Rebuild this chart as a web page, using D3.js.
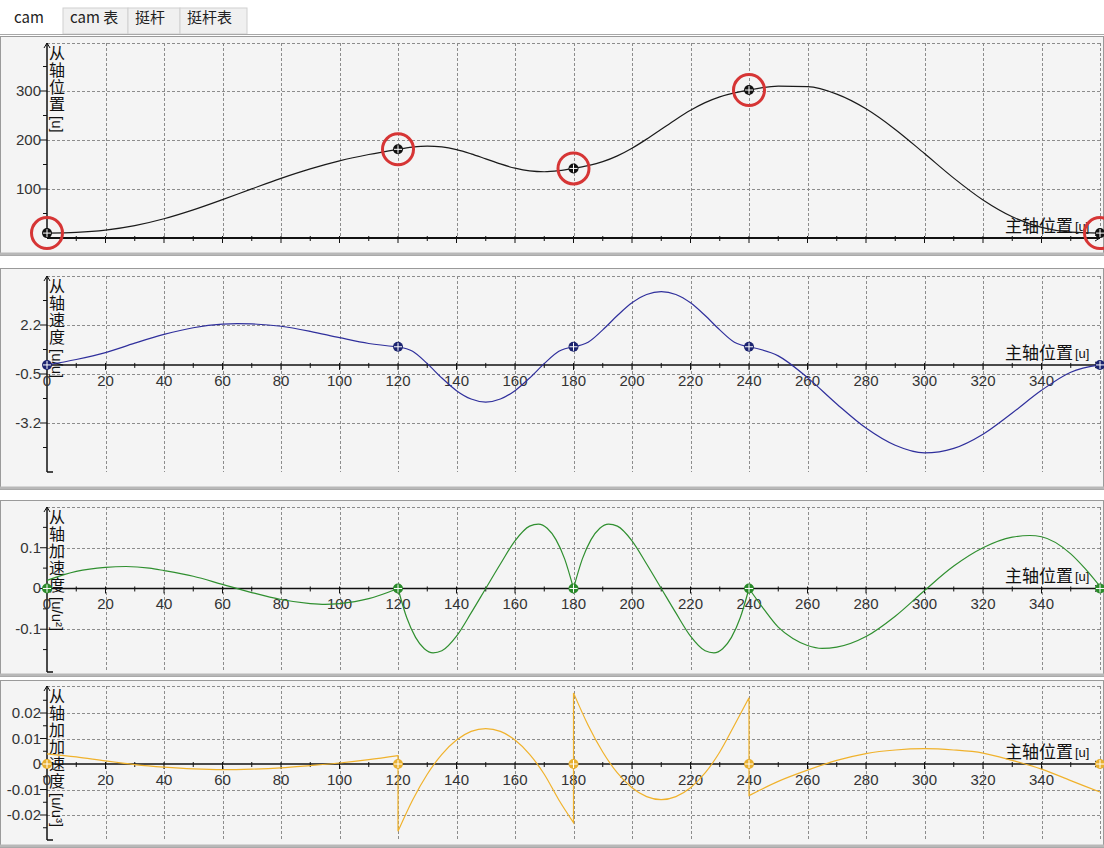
<!DOCTYPE html>
<html>
<head>
<meta charset="utf-8">
<script src="https://cdn.jsdelivr.net/npm/d3@7"></script>
<style>
  body { margin: 0; background: #fff; }
  svg text { font-family: 'Liberation Sans', Arial, sans-serif; }
  .cjk { font-family: 'Noto Sans CJK SC', sans-serif; }
  .vtitle { font-family: 'Noto Sans CJK SC', sans-serif; writing-mode: vertical-rl; }
</style>
</head>
<body>
<svg class='d3SVG'></svg>
<script>
// master axis (u)
const xTicks = [0, 20, 40, 60, 80, 100, 120, 140, 160, 180, 200, 220, 240, 260, 280, 300, 320, 340]
const knotX = [0, 120, 180, 240, 360]

// follower position
const posX = [0, 10, 20, 30, 40, 50, 60, 70, 80, 90, 100, 110, 120,
  125, 130, 135, 140, 145, 150, 155, 160, 165, 170, 175, 180,
  185, 190, 195, 200, 205, 210, 215, 220, 225, 230, 235, 240,
  250, 260, 270, 280, 290, 300, 310, 320, 330, 340, 350, 360]
const posY = [10, 11.5, 16.2, 25.3, 39.3, 57.4, 78.3, 100.3, 121.7, 141, 157.4, 170.4, 181,
  185.6, 187.7, 186, 180.4, 171.7, 161.5, 151.2, 142.5, 136.9, 135.2, 137.4, 142,
  147.7, 155.8, 167.6, 183.2, 201.8, 222, 242.1, 260.7, 276.3, 288.1, 296.2, 302,
  310, 308.9, 293.7, 263.7, 221.6, 172.3, 122.2, 77.6, 43.3, 21.7, 12.1, 10]
const knotPos = [10, 181, 142, 302, 10]

// follower velocity
const velX = [0, 10, 20, 30, 40, 50, 60, 65, 70, 80, 90, 100, 110, 120,
  125, 130, 135, 140, 145, 150, 155, 160, 165, 170, 175, 180,
  185, 190, 195, 200, 205, 210, 215, 220, 225, 230, 235, 240,
  250, 260, 270, 280, 290, 300, 310, 320, 330, 340, 350, 360]
const velY = [0, 0.3, 0.68, 1.2, 1.68, 2.05, 2.25, 2.28, 2.26, 2.13, 1.85, 1.5, 1.18, 1.0,
  0.75, 0.07, -0.72, -1.42, -1.88, -2.05, -1.88, -1.42, -0.72, 0.07, 0.75, 1.0,
  1.25, 1.93, 2.72, 3.42, 3.88, 4.04, 3.88, 3.42, 2.72, 1.93, 1.25, 1.0,
  0.5, -0.7, -2.15, -3.48, -4.43, -4.85, -4.6, -3.82, -2.65, -1.4, -0.4, 0]
const knotVel = [0, 1.0, 1.0, 1.0, 0]

// follower acceleration
const accX = [0, 10, 20, 27, 35, 40, 50, 60, 70, 80, 90, 95, 100, 110, 120,
  123, 126, 129, 132, 135, 140, 145, 150, 155, 160, 165, 168, 171, 174, 177, 180,
  183, 186, 189, 192, 195, 200, 205, 210, 215, 220, 225, 228, 231, 234, 237, 240,
  245, 250, 255, 260, 265, 270, 280, 290, 300, 310, 320, 330, 336, 340, 350, 355, 360]
const accY = [0.02, 0.042, 0.052, 0.054, 0.05, 0.044, 0.03, 0.01, -0.01, -0.027, -0.037, -0.039, -0.037, -0.025, 0,
  -0.072, -0.12, -0.148, -0.158, -0.153, -0.117, -0.06, 0, 0.06, 0.117, 0.153, 0.158, 0.148, 0.12, 0.072, 0,
  0.072, 0.12, 0.148, 0.158, 0.153, 0.117, 0.06, 0, -0.06, -0.117, -0.153, -0.158, -0.148, -0.12, -0.072, 0,
  -0.05, -0.095, -0.123, -0.14, -0.147, -0.144, -0.118, -0.068, -0.005, 0.055, 0.1, 0.126, 0.13, 0.127, 0.085, 0.048, 0.005]
const knotAcc = [0, 0, 0, 0, 0]

// follower jerk (jumps at 120 / 180 / 240)
const jrkX = [0, 10, 20, 30, 40, 50, 60, 70, 80, 90, 100, 110, 120,
  120, 125, 130, 135, 140, 145, 150, 155, 160, 165, 170, 175, 180,
  180, 185, 190, 195, 200, 205, 210, 215, 220, 225, 230, 235, 240,
  240, 250, 260, 270, 280, 290, 300, 310, 320, 330, 340, 350, 360]
const jrkY = [0.004, 0.0028, 0.0012, -0.0002, -0.0012, -0.0019, -0.0022, -0.002, -0.0015, -0.0006, 0.0004, 0.0017, 0.0033,
  -0.0264, -0.0141, -0.004, 0.0038, 0.0094, 0.0128, 0.0139, 0.0128, 0.0094, 0.0038, -0.004, -0.0141, -0.023,
  0.0279, 0.0152, 0.0047, -0.0035, -0.0093, -0.0128, -0.014, -0.0128, -0.0093, -0.0035, 0.0047, 0.0152, 0.026,
  -0.0124, -0.0068, -0.0024, 0.0014, 0.0041, 0.0055, 0.006, 0.0055, 0.0043, 0.0014, -0.002, -0.0065, -0.011]
const knotJrk = [0, 0, 0, 0, 0]

const tabNames = ['cam', 'cam 表', '挺杆', '挺杆表']

const width = 1104
const height = 848

var svg = d3.select('.d3SVG')
  .attr('width', width)
  .attr('height', height)

var xScale = d3.scaleLinear()
  .domain([0, 360])
  .range([47, 1100])

// tabs
svg.append('rect').attr('x', 0).attr('y', 0).attr('width', width).attr('height', 34).style('fill', '#fff')
var tabX = [8, 63, 128, 180, 247]
tabNames.forEach((t, i) => {
  if (i > 0) {
    svg.append('rect')
      .attr('x', tabX[i]).attr('y', 8)
      .attr('width', tabX[i + 1] - tabX[i]).attr('height', 26)
      .style('fill', '#f0f0f0').style('stroke', '#d0d0d0')
  }
  svg.append('text')
    .attr('class', 'cjk')
    .attr('x', i === 0 ? 14 : tabX[i] + 7)
    .attr('y', 23)
    .style('font-size', '15px')
    .style('fill', '#222')
    .text(t)
})
svg.append('line').attr('x1', 0).attr('x2', width).attr('y1', 34.5).attr('y2', 34.5).style('stroke', '#a8a8a8')

const panels = [
  { box: [36, 256], top: 43, bottom: 238, domain: [0, 398], major: [100, 200, 300], minor: [50, 150, 250, 350],
    xs: posX, ys: posY, knots: knotPos, color: '#1a1a1a', mark: '#111', title: '从轴位置', unit: '[u]', xlabels: false, rings: true },
  { box: [268, 490], top: 276, bottom: 472, domain: [-5.9, 4.9], major: [-3.2, -0.5, 2.2], minor: [-4.55, -1.85, 0.85, 3.55],
    xs: velX, ys: velY, knots: knotVel, color: '#2f2f9c', mark: '#1c2470', title: '从轴速度', unit: '[u/u]', xlabels: true },
  { box: [500, 677], top: 507, bottom: 672, domain: [-0.205, 0.2], major: [-0.1, 0, 0.1], minor: [-0.15, -0.05, 0.05, 0.15],
    xs: accX, ys: accY, knots: knotAcc, color: '#2f8f2f', mark: '#2a8a2a', title: '从轴加速度', unit: '[u/u²]', xlabels: true },
  { box: [680, 848], top: 686, bottom: 840, domain: [-0.0298, 0.0306], major: [-0.02, -0.01, 0, 0.01, 0.02], minor: [-0.025, -0.015, -0.005, 0.005, 0.015, 0.025],
    xs: jrkX, ys: jrkY, knots: knotJrk, color: '#f0b22c', mark: '#e8b030', title: '从轴加加速度', unit: '[u/u³]', xlabels: true }
]

function splitPieces(xs, ys) {
  var pieces = [[]]
  xs.forEach((x, i) => {
    var cur = pieces[pieces.length - 1]
    cur.push([x, ys[i]])
    if ([120, 180, 240].includes(x) && cur.length > 1) {
      if (xs[i + 1] === x) pieces.push([])
      else pieces.push([[x, ys[i]]])
    }
  })
  return pieces.filter(p => p.length > 1)
}

panels.forEach((p) => {
  var g = svg.append('g')
  var yScale = d3.scaleLinear().domain(p.domain).range([p.bottom, p.top])
  var y0 = yScale(0)

  g.append('rect')
    .attr('x', 0.5).attr('y', p.box[0] + 0.5)
    .attr('width', width - 1).attr('height', p.box[1] - p.box[0] - 1)
    .style('fill', '#f4f4f4').style('stroke', '#9a9a9a').style('stroke-width', 1)
  g.append('line')
    .attr('x1', 0).attr('x2', width).attr('y1', p.box[1] - 2).attr('y2', p.box[1] - 2)
    .style('stroke', '#b8b8b8').style('stroke-width', 3)

  // grid
  var hGrid = p.major.filter(v => v !== 0).concat([p.domain[1]])
  g.selectAll('.hgrid').data(hGrid).enter().append('line')
    .attr('x1', xScale(0)).attr('x2', xScale(360))
    .attr('y1', d => Math.round(yScale(d)) + 0.5).attr('y2', d => Math.round(yScale(d)) + 0.5)
    .style('stroke', '#8c8c8c').style('stroke-dasharray', '3,2')
  g.selectAll('.vgrid').data(d3.range(20, 361, 20)).enter().append('line')
    .attr('x1', d => Math.round(xScale(d)) + 0.5).attr('x2', d => Math.round(xScale(d)) + 0.5)
    .attr('y1', p.top).attr('y2', p.bottom)
    .style('stroke', '#8c8c8c').style('stroke-dasharray', '3,2')

  // y axis
  var ax = xScale(0)
  g.append('line').attr('x1', ax).attr('x2', ax).attr('y1', p.top).attr('y2', p.bottom)
    .style('stroke', '#111').style('stroke-width', 1.5)
  g.append('path').attr('d', `M${ax - 3},${p.top + 5}L${ax},${p.top}L${ax + 3},${p.top + 5}`)
    .style('fill', 'none').style('stroke', '#111')
  g.append('line').attr('x1', ax).attr('x2', ax + 6).attr('y1', p.bottom).attr('y2', p.bottom)
    .style('stroke', '#111').style('stroke-width', 1.5)
  g.selectAll('.ymaj').data(p.major).enter().append('line')
    .attr('x1', ax - 7).attr('x2', ax).attr('y1', d => yScale(d)).attr('y2', d => yScale(d))
    .style('stroke', '#111')
  g.selectAll('.ymin').data(p.minor).enter().append('line')
    .attr('x1', ax - 4).attr('x2', ax).attr('y1', d => yScale(d)).attr('y2', d => yScale(d))
    .style('stroke', '#111')
  g.selectAll('.ylab').data(p.major).enter().append('text')
    .attr('x', ax - 6).attr('y', d => yScale(d) + 5)
    .style('text-anchor', 'end').style('font-size', '15px').style('fill', '#333')
    .text(d => d)

  // x axis
  g.append('line').attr('x1', ax).attr('x2', xScale(360)).attr('y1', y0).attr('y2', y0)
    .style('stroke', '#111').style('stroke-width', p.xlabels ? 1.5 : 2.2)
  g.append('path').attr('d', `M${xScale(360) - 5},${y0 - 3}L${xScale(360)},${y0}L${xScale(360) - 5},${y0 + 3}`)
    .style('fill', 'none').style('stroke', '#111')
  g.selectAll('.xmin').data(d3.range(10, 360, 10)).enter().append('line')
    .attr('x1', d => xScale(d)).attr('x2', d => xScale(d))
    .attr('y1', y0 - 2).attr('y2', d => y0 + (d % 20 === 0 ? 5 : 3))
    .style('stroke', '#111')
  if (p.xlabels) {
    g.selectAll('.xlab').data(xTicks).enter().append('text')
      .attr('x', d => xScale(d)).attr('y', y0 + 21)
      .style('text-anchor', 'middle').style('font-size', '15px').style('fill', '#333')
      .text(d => d)
  }
  g.append('text').attr('class', 'cjk')
    .attr('x', 1073).attr('y', y0 - 6)
    .style('text-anchor', 'end').style('font-size', '17px').style('fill', '#111')
    .text('主轴位置')
  g.append('text')
    .attr('x', 1075).attr('y', y0 - 7)
    .style('font-size', '13px').style('fill', '#111')
    .text('[u]')

  // vertical y title: CJK upright, unit turned sideways
  var vt = g.append('text').attr('class', 'vtitle')
    .attr('x', 57).attr('y', p.top + 2)
    .style('font-size', '16px').style('letter-spacing', '1px').style('fill', '#111')
  vt.append('tspan').text(p.title)
  vt.append('tspan')
    .attr('dy', 3)
    .style('font-family', "'Liberation Sans', Arial, sans-serif")
    .style('font-size', '15px').style('letter-spacing', '0px')
    .text(p.unit)

  // curve
  var line = d3.line()
    .x(d => xScale(d[0]))
    .y(d => yScale(d[1]))
    .curve(d3.curveMonotoneX)
  var pathD = splitPieces(p.xs, p.ys).map((pc, i) => {
    var s = line(pc)
    return i === 0 ? s : 'L' + s.slice(1)
  }).join('')
  g.append('path').attr('d', pathD)
    .style('fill', 'none').style('stroke', p.color).style('stroke-width', 1.2)

  // key points
  var marks = g.selectAll('.mark').data(knotX.map((k, i) => [k, p.knots[i]])).enter().append('g')
    .attr('transform', d => `translate(${xScale(d[0])},${yScale(d[1])})`)
  marks.append('circle').attr('r', 5).style('fill', p.mark)
  marks.append('path').attr('d', 'M-4,0H4M0,-4V4').style('stroke', '#fff').style('stroke-width', 1)
  if (p.rings) {
    marks.append('circle').attr('r', 15.5)
      .style('fill', 'none').style('stroke', '#d63535').style('stroke-width', 3)
  }
})
</script>
</body>
</html>
